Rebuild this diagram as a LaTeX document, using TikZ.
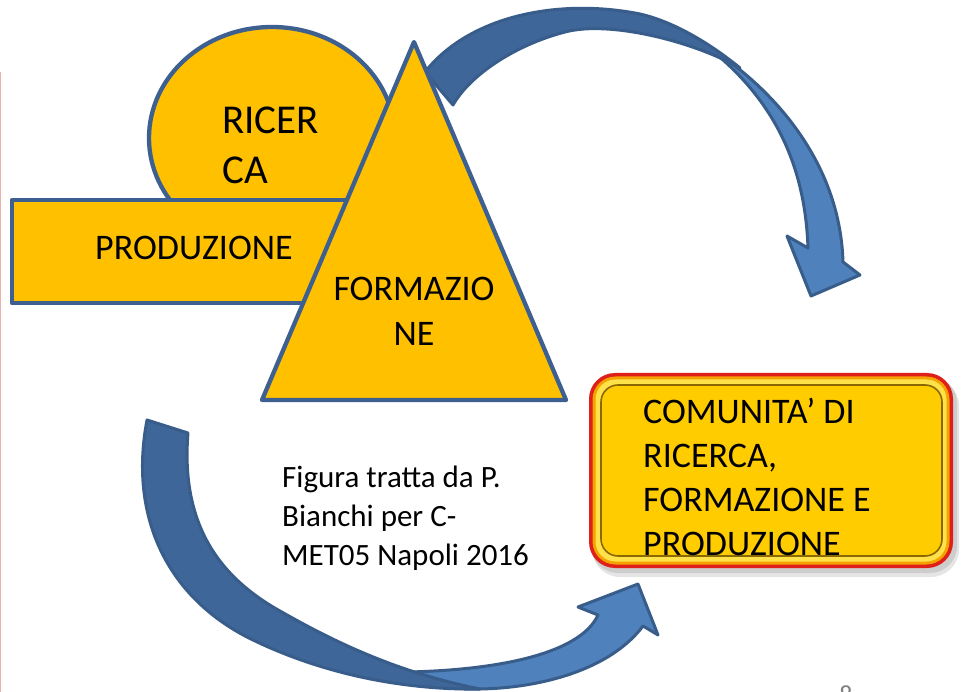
\documentclass[tikz,border=0pt]{standalone}
\usepackage{fontspec}
\setmainfont{Carlito}
\definecolor{gold}{HTML}{FFC000}
\definecolor{shapeedge}{HTML}{3E6090}
\definecolor{darkarr}{HTML}{3F6699}
\definecolor{lightarr}{HTML}{4F81BD}
\definecolor{arredge}{HTML}{385D8A}
\definecolor{boxred}{HTML}{DE1F1A}
\definecolor{boxorange}{HTML}{F5A200}
\definecolor{boxlight}{HTML}{FFE24A}
\definecolor{boxline}{HTML}{8A6A00}
\definecolor{boxfill}{HTML}{FFCC00}
\definecolor{slidepink}{HTML}{EBB0B0}
\tikzset{
  goldshape/.style={fill=gold, draw=shapeedge, line width=4.3pt, line join=round},
  arrdark/.style={fill=darkarr, draw=arredge, line width=3pt, line join=round},
  arrlight/.style={fill=lightarr, draw=arredge, line width=3pt, line join=round},
  lbl/.style={inner sep=0pt, align=left, anchor=north west},
}
\begin{document}
\begin{tikzpicture}[x=1pt, y=-1pt]
\useasboundingbox (0,0) rectangle (961,692);
\fill[white] (0,0) rectangle (961,692);
% slide edge
\draw[slidepink, line width=1.2pt] (0.6,72) -- (0.6,692);

% RICERCA ellipse
\draw[goldshape] (272,138) ellipse [x radius=123, y radius=111];
% PRODUZIONE bar
\draw[goldshape] (12,200) rectangle (420,303);

% top curved arrow
\draw[arrlight] (705,45) .. controls (770,85) and (840,160) .. (843,262)
  -- (860,275) -- (811,296) -- (787,236) -- (808,248)
  .. controls (805,160) and (770,95) .. (705,45) -- cycle;
\draw[arrdark] (425,72) .. controls (470,15) and (560,-2) .. (640,14)
  .. controls (675,22) and (712,45) .. (740,68)
  .. controls (695,42) and (610,20) .. (565,32)
  .. controls (515,45) and (470,75) .. (453,105) -- cycle;

% FORMAZIONE triangle
\draw[goldshape] (414,42) -- (566,400) -- (262,400) -- cycle;

% bottom curved arrow
\draw[arrlight] (360,672) .. controls (400,684) and (440,689) .. (480,689)
  .. controls (540,688) and (610,670) .. (643,626)
  -- (658,635) -- (638,584) -- (578,607) -- (598,615)
  .. controls (580,655) and (490,675) .. (360,672) -- cycle;
\draw[arrdark] (147,420) .. controls (128,520) and (170,600) .. (253,640)
  .. controls (336,680) and (420,690) .. (480,689)
  .. controls (395,672) and (330,640) .. (273,607)
  .. controls (225,578) and (180,530) .. (188,433) -- cycle;

% community box
\fill[black, opacity=0.10, rounded corners=28pt] (592,378) rectangle (959,577);
\fill[black, opacity=0.10, rounded corners=27pt] (591,376) rectangle (957,573);
\fill[boxred, rounded corners=26pt] (589,373) rectangle (953,568);
\fill[boxorange, rounded corners=23pt] (592.5,376.5) rectangle (949.5,564.5);
\fill[boxlight, rounded corners=20pt] (595.5,379.5) rectangle (946.5,561.5);
\draw[boxline, line width=1.6pt, fill=boxfill, rounded corners=17pt] (601,385) rectangle (942,556);

% texts
\node[lbl, font=\fontsize{41}{50}\selectfont] (ricerca) at (222,107) {RICER\\CA};
\node[inner sep=0pt, anchor=base west, font=\fontsize{36}{44}\selectfont] (produzione) at (95,260) {PRODUZIONE};
\node[inner sep=0pt, align=center, anchor=north, font=\fontsize{36}{45}\selectfont] (formazione) at (414,277) {FORMAZIO\\NE};
\node[lbl, font=\fontsize{36}{44}\selectfont] (comunita) at (643,398) {COMUNITA’ DI\\RICERCA,\\FORMAZIONE E\\PRODUZIONE};
\node[lbl, font=\fontsize{31}{39}\selectfont] (figura) at (282,466) {Figura tratta da P.\\Bianchi per C-\\MET05 Napoli 2016};
\node[inner sep=0pt, anchor=north, text=gray, font=\fontsize{26}{30}\selectfont] (pagenum) at (846,686) {8};
\end{tikzpicture}
\end{document}
